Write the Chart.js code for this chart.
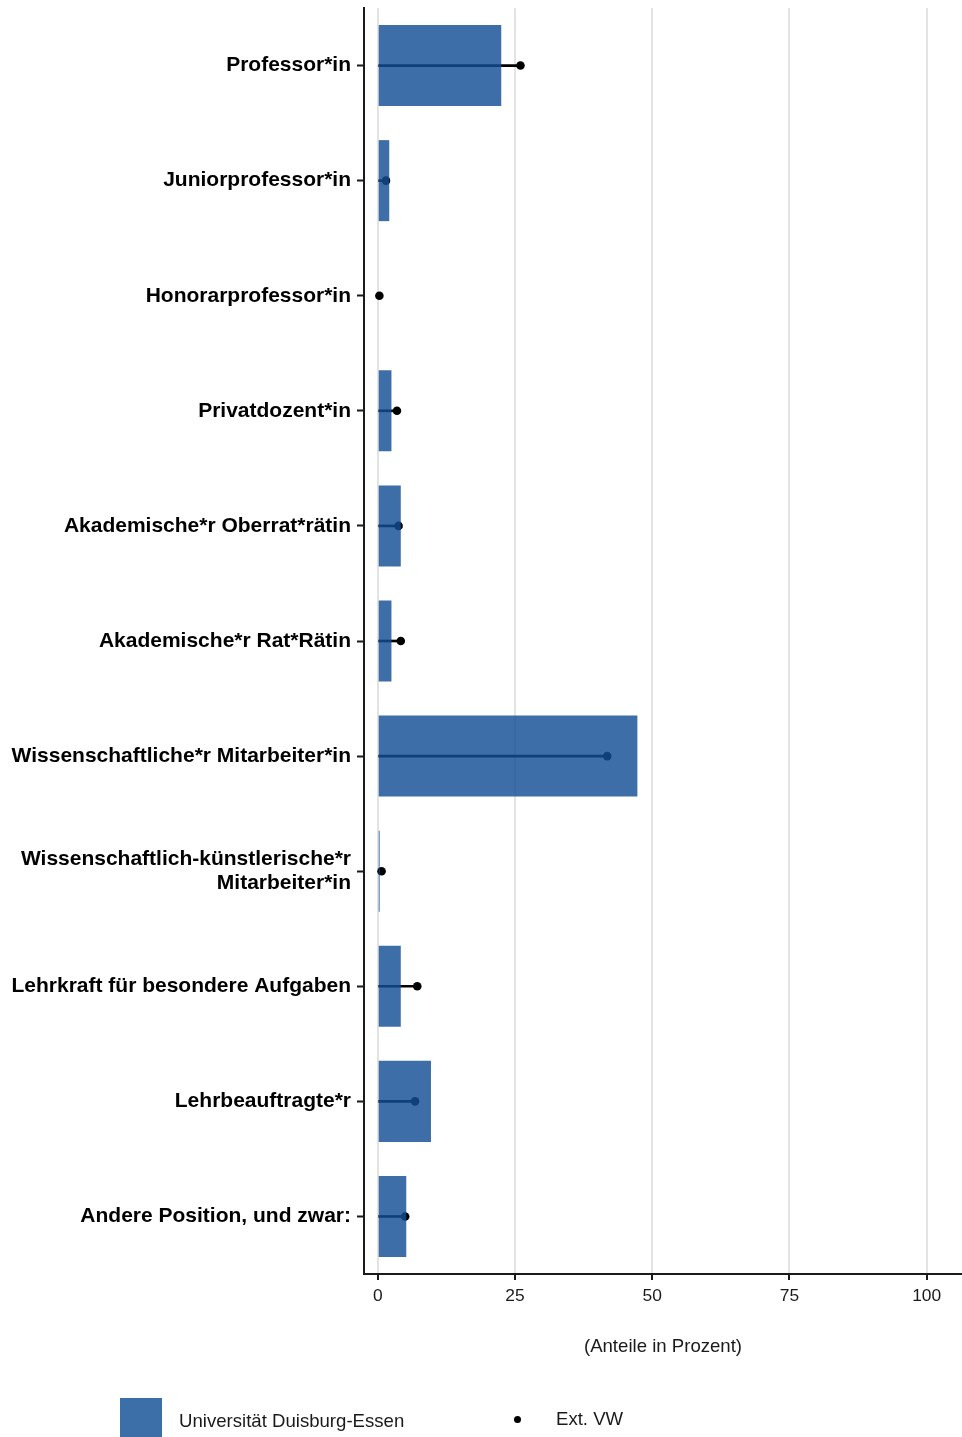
<!DOCTYPE html>
<html>
<head>
<meta charset="utf-8">
<script src="https://cdn.jsdelivr.net/npm/chart.js@4"></script>
<style>
  html, body { margin: 0; padding: 0; background: #fff; overflow: hidden; }
  #wrap { position: relative; width: 962px; height: 1437px; }
  #legend { position: absolute; left: 0; top: 0; width: 962px; height: 1437px; pointer-events: none;
    font-family: "Liberation Sans", Arial, sans-serif; font-size: 18.6px; color: #1a1a1a; }
  .swatch { position: absolute; left: 120px; top: 1398px; width: 42px; height: 45px; background: rgb(60, 111, 168); }
  .dot { position: absolute; left: 514px; top: 1416px; width: 7px; height: 7px; border-radius: 50%; background: #000; }
  .lbl { position: absolute; line-height: 22px; }
</style>
</head>
<body>
<div id="wrap">
  <canvas id="chart" width="962" height="1437"></canvas>
  <div id="legend">
    <div class="swatch"></div>
    <div class="lbl" style="left:179px; top:1410px;">Universität Duisburg-Essen</div>
    <div class="dot"></div>
    <div class="lbl" style="left:556px; top:1408px;">Ext. VW</div>
  </div>
</div>
<script>
  const categories = [
    "Professor*in",
    "Juniorprofessor*in",
    "Honorarprofessor*in",
    "Privatdozent*in",
    "Akademische*r Oberrat*rätin",
    "Akademische*r Rat*Rätin",
    "Wissenschaftliche*r Mitarbeiter*in",
    ["Wissenschaftlich-künstlerische*r", "Mitarbeiter*in"],
    "Lehrkraft für besondere Aufgaben",
    "Lehrbeauftragte*r",
    "Andere Position, und zwar:",
  ];

  // Universität Duisburg-Essen (bars)
  const udeValues = [22.5, 2.1, 0, 2.5, 4.2, 2.5, 47.3, 0.35, 4.2, 9.7, 5.2];
  // Ext. VW (points)
  const extValues = [26.0, 1.5, 0.3, 3.5, 3.8, 4.2, 41.8, 0.7, 7.2, 6.8, 5.0];

  const xTicks = [0, 25, 50, 75, 100];

  const barColor = "rgba(18, 78, 148, 0.82)";
  const fontFamily = "'Liberation Sans', Arial, sans-serif";

  new Chart(document.getElementById("chart"), {
    type: "bar",
    data: {
      labels: categories,
      datasets: [
        {
          label: "Universität Duisburg-Essen",
          data: udeValues,
          backgroundColor: barColor,
          borderWidth: 0,
          barPercentage: 0.704,
          categoryPercentage: 1,
          grouped: false,
          order: 1,
        },
        {
          label: "Ext. VW",
          type: "line",
          indexAxis: "y",
          data: extValues.map((v, i) => ({ x: v, y: categories[i] })),
          showLine: false,
          pointRadius: 4.3,
          pointBackgroundColor: "#000",
          pointBorderWidth: 0,
          order: 2,
        },
        {
          label: "stem",
          data: extValues,
          backgroundColor: "#000",
          borderWidth: 0,
          barThickness: 2,
          grouped: false,
          order: 3,
        },
      ],
    },
    options: {
      indexAxis: "y",
      responsive: false,
      animation: false,
      devicePixelRatio: 1,
      layout: { autoPadding: false, padding: { top: 8, left: 0, right: 0, bottom: 0 } },
      plugins: { legend: { display: false }, tooltip: { enabled: false } },
      scales: {
        x: {
          type: "linear",
          min: -2.5,
          max: 106.43,
          afterBuildTicks: (scale) => {
            scale.ticks = xTicks.map((v) => ({ value: v }));
          },
          afterFit: (scale) => {
            scale.height = 163;
            scale.paddingLeft = 0;
            scale.paddingRight = 0;
          },
          grid: {
            color: "#e3e3e3",
            lineWidth: 2,
            drawTicks: true,
            tickLength: 6,
            tickColor: "#1a1a1a",
            tickWidth: 2,
          },
          border: { display: true, color: "#1a1a1a", width: 2 },
          ticks: {
            padding: 6,
            color: "#1a1a1a",
            font: { family: fontFamily, size: 17.4 },
          },
          title: {
            display: true,
            text: "(Anteile in Prozent)",
            color: "#1a1a1a",
            padding: { top: 0, bottom: 79 },
            font: { family: fontFamily, size: 18.6 },
          },
        },
        y: {
          type: "category",
          offset: true,
          afterFit: (scale) => {
            scale.width = 364;
            scale.paddingTop = 0;
            scale.paddingBottom = 0;
          },
          grid: {
            offset: false,
            drawOnChartArea: false,
            drawTicks: true,
            tickLength: 7,
            tickColor: "#1a1a1a",
            tickWidth: 2,
          },
          border: { display: true, color: "#1a1a1a", width: 2 },
          ticks: {
            padding: 6,
            color: "#000",
            autoSkip: false,
            font: { family: fontFamily, size: 21, weight: "bold", lineHeight: 1.1 },
          },
        },
      },
    },
  });
</script>
</body>
</html>
